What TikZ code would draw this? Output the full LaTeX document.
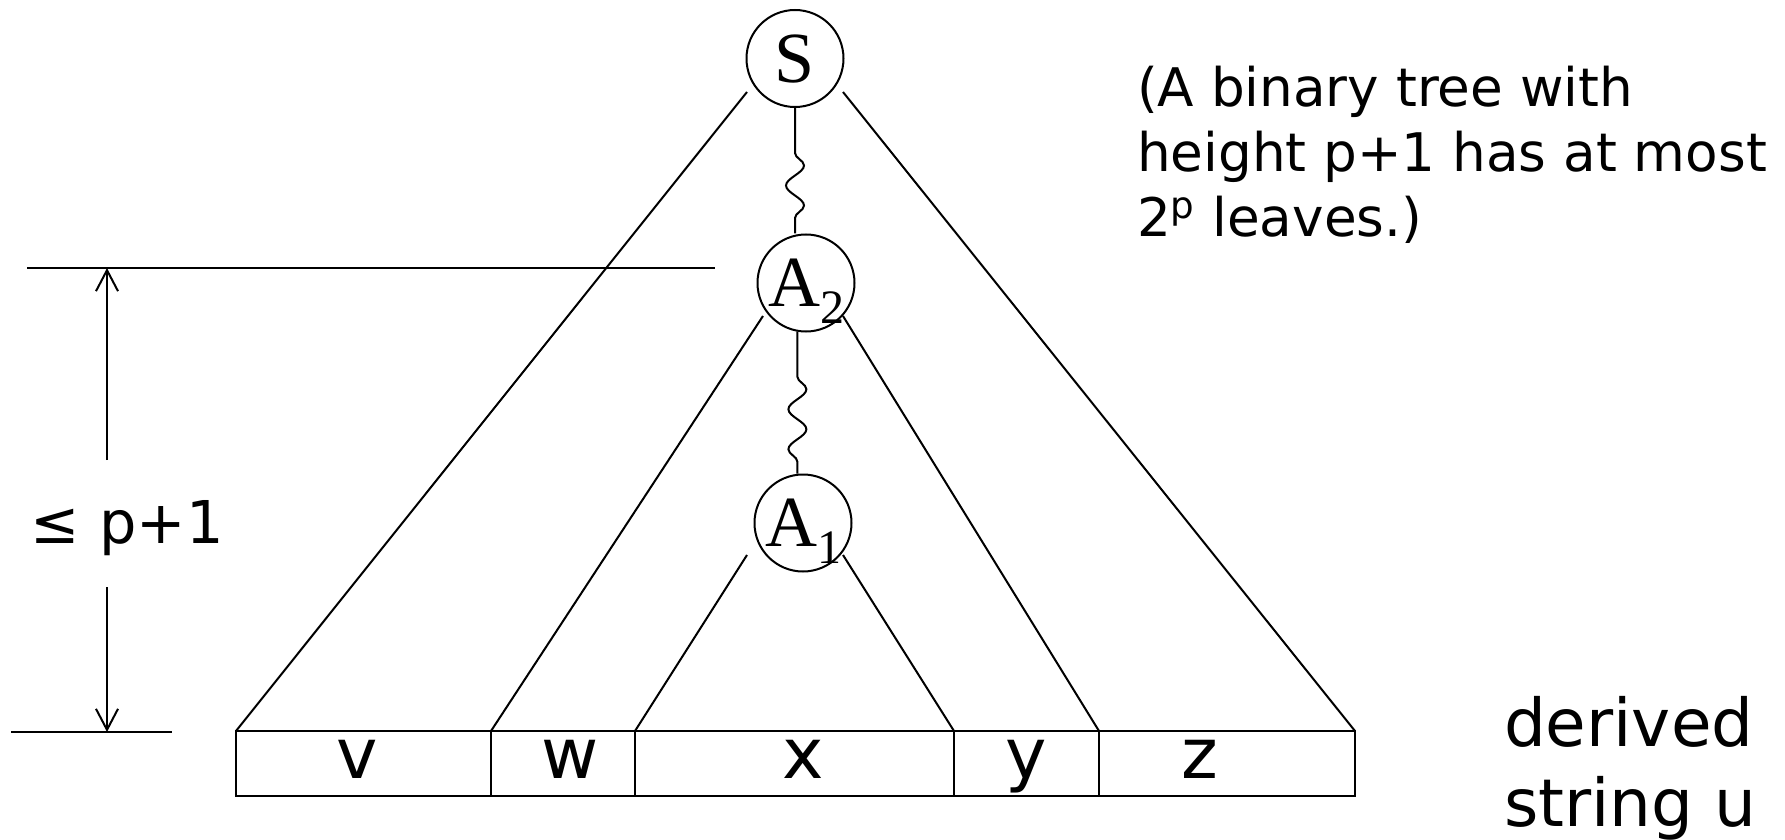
\documentclass[tikz,border=0pt]{standalone}
\usepackage{fontspec}
\setmainfont{DejaVu Sans}
\newfontfamily\treefont{Liberation Serif}
\usetikzlibrary{arrows.meta,decorations.pathmorphing}

\tikzset{
  vert/.style={circle,draw,minimum size=48.5pt,inner sep=0pt,text depth=0pt,
    font=\treefont\fontsize{36}{36}\selectfont},
  wiggle/.style={decorate,decoration={snake,segment length=20pt,amplitude=4.5pt,
    pre length=#1,post length=4pt}},
  measure/.style={-{Straight Barb[length=10.5pt,width=11pt]}},
  leaf/.style={anchor=base,inner sep=0pt,font=\fontsize{35}{35}\selectfont},
}
\newcommand{\subidx}[1]{\raisebox{-8.5pt}{\fontsize{24}{24}\selectfont #1}}

\begin{document}
\begin{tikzpicture}[x=0.5pt,y=-0.5pt,line width=1pt]
	\useasboundingbox (0,0) rectangle (1785,840);
	% the three variables on the path
	\node[vert] (S) at (795,58.5) {S};
	\node[vert] (A2) at (806,283) {A\subidx{2}};
	\node[vert] (A1) at (803,523) {A\subidx{1}};
	\draw[wiggle=22.5pt] (S.south) -- (S.south |- A2.north);
	\draw[wiggle=22.5pt] (A2.260) -- (A2.260 |- A1.north);
	% corners of the yield
	\coordinate (c0) at (236,731);
	\coordinate (c1) at (491,731);
	\coordinate (c2) at (635,731);
	\coordinate (c3) at (954,731);
	\coordinate (c4) at (1099,731);
	\coordinate (c5) at (1355,731);
	% ends of the subtree sides
	\coordinate (Sl) at (747,92);
	\coordinate (Sr) at (843,92);
	\coordinate (A2l) at (763,316);
	\coordinate (A2r) at (843,316);
	\coordinate (A1l) at (747,555);
	\coordinate (A1r) at (843,555);
	\draw (Sl)--(c0);
	\draw (Sr)--(c5);
	\draw (A2l)--(c1);
	\draw (A2r)--(c4);
	\draw (A1l)--(c2);
	\draw (A1r)--(c3);
	% the string
	\draw (c0) rectangle ([yshift=-65*0.5pt]c5);
	\foreach \c in {c1,c2,c3,c4}
		\draw (\c) -- ++(0,65);
	\node[leaf] (v) at (357,778) {v};
	\node[leaf] (w) at (570,778) {w};
	\node[leaf] (x) at (803,778) {x};
	\node[leaf] (y) at (1026,778) {y};
	\node[leaf] (z) at (1200,778) {z};
	% height
	\coordinate (htl) at (27,268);
	\coordinate (htr) at (715,268);
	\coordinate (hbl) at (11,732);
	\coordinate (hbr) at (172,732);
	\draw (htl)--(htr);
	\draw (hbl)--(hbr);
	\node[anchor=base west,inner sep=0pt,font=\fontsize{29.5}{29.5}\selectfont] (height) at (30,543) {≤ p+1};
	\coordinate (hup) at (107,460);
	\coordinate (hdown) at (107,587);
	\draw[measure] (hup) -- (hup |- htl);
	\draw[measure] (hdown) -- (hdown |- hbl);
	% remarks
	\node[anchor=north west,inner sep=0pt,align=left,font=\fontsize{26.6}{32.5}\selectfont] (note) at (1136,65)
		{(A binary tree with\\height p+1 has at most\\2\textsuperscript{p} leaves.)};
	\node[anchor=north west,inner sep=0pt,align=left,font=\fontsize{33}{36}\selectfont] (derived) at (1503,695)
		{derived\\[4pt]string u};
\end{tikzpicture}
\end{document}
